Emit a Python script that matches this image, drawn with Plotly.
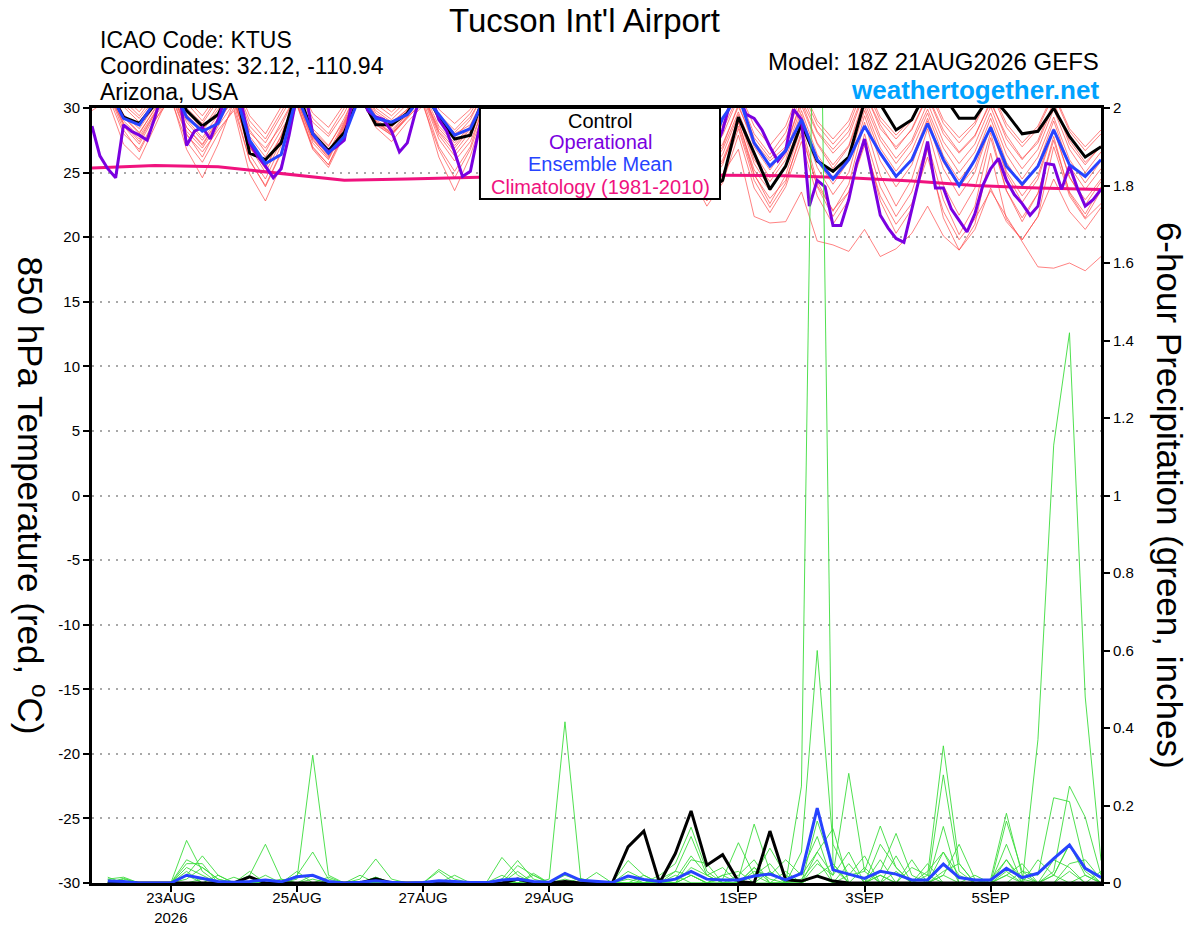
import pandas as pd
import plotly.graph_objects as go

# GEFS run 18Z 21AUG2026, 6-hourly out to 384 h (operational run is 3-hourly)
times6 = pd.date_range("2026-08-21 18:00", periods=65, freq="6h")
times3 = pd.date_range("2026-08-21 18:00", periods=129, freq="3h")
precip_times = times6[1:]          # precip starts at f006
clim_times = times6[::4]           # climatology: one value a day

tick_dates = ["2026-08-23", "2026-08-25", "2026-08-27", "2026-08-29",
              "2026-09-01", "2026-09-03", "2026-09-05"]
tick_text = ["23AUG<br>2026", "25AUG", "27AUG", "29AUG", "1SEP", "3SEP", "5SEP"]

# 850 hPa temperature (C)
t_control = [30.3,
             31.5, 29.3, 28.8, 30.3, 32.0, 29.8, 28.6, 29.5,
             32.0, 26.5, 26.0, 27.3, 31.5, 28.0, 26.7, 28.1,
             31.0, 28.7, 28.7, 29.6, 31.5, 29.3, 27.6, 27.9,
             31.5, 29.5, 28.0, 28.8, 31.5, 29.0, 27.5, 28.5,
             31.0, 28.0, 26.5, 27.0, 30.0, 27.0, 23.6, 24.4,
             29.3, 26.5, 23.7, 25.5, 28.8, 25.9, 25.1, 26.2,
             30.5, 30.3, 28.3, 29.1, 31.5, 31.0, 29.2, 29.2,
             31.0, 29.6, 28.0, 28.2, 30.0, 27.8, 26.2, 27.0]
t_mean = [30.3,
          31.5, 29.2, 28.7, 30.5, 32.0, 29.3, 28.2, 28.8,
          31.5, 27.5, 25.7, 26.4, 31.0, 28.0, 26.5, 27.8,
          31.0, 29.2, 28.9, 29.5, 31.0, 29.5, 27.9, 28.4,
          31.0, 29.0, 27.8, 28.5, 31.0, 29.0, 27.6, 28.3,
          30.5, 28.5, 27.0, 27.8, 30.2, 28.5, 26.2, 29.2,
          31.0, 27.3, 25.5, 26.7, 29.1, 26.0, 24.5, 26.0,
          28.6, 26.5, 24.7, 26.0, 28.8, 26.0, 24.0, 26.0,
          28.5, 25.5, 24.1, 25.5, 28.3, 25.6, 24.7, 26.0]
t_oper = [28.6, 26.3, 25.3, 24.6, 28.7, 28.2, 27.9, 27.5, 29.3, 31.5,
          32.0, 31.5, 27.1, 28.2, 28.5, 27.6, 29.1, 31.0, 32.0, 30.2,
          27.3, 26.3, 25.5, 24.6, 25.3, 27.9, 31.0, 31.5, 28.0, 27.2,
          26.6, 27.0, 27.5, 30.5, 31.5, 29.8, 29.3, 29.1, 28.2, 26.6,
          27.3, 29.6, 31.5, 31.0, 29.1, 28.2, 26.6, 24.7, 25.1, 27.9,
          31.0, 31.5, 30.0, 29.0, 28.0, 27.0, 27.5, 29.0, 31.0, 31.5,
          30.5, 29.0, 27.5, 26.5, 27.0, 28.5, 31.0, 31.5, 30.5, 29.5,
          28.0, 26.8, 27.5, 29.0, 31.0, 31.5, 30.0, 28.5, 27.5, 26.7,
          28.3, 30.5, 31.0, 29.5, 29.2, 28.3, 27.0, 25.9, 26.7, 29.9,
          29.1, 22.4, 24.4, 23.9, 20.9, 20.9, 22.9, 25.7, 27.6, 24.6,
          21.7, 20.7, 19.9, 19.6, 22.1, 24.7, 27.4, 23.8, 23.8, 22.2,
          21.3, 20.4, 21.8, 24.0, 25.3, 26.1, 24.4, 23.3, 22.6, 21.7,
          22.4, 25.7, 25.6, 23.7, 25.5, 23.8, 22.4, 22.9, 23.7]
t_clim = [25.35, 25.55, 25.45, 24.9, 24.4, 24.5, 24.65, 24.75, 24.85,
          24.85, 24.8, 24.75, 24.6, 24.35, 24.0, 23.8, 23.7]

# ensemble members, temperature
t01 = [30.8, 32.0, 30.1, 28.9, 30.6, 32.4, 29.8, 28.3, 30.2, 31.6, 28.1, 26.9, 28.6,
       31.2, 28.4, 27.1, 29.0, 31.9, 29.6, 28.8, 29.9, 31.5, 29.2, 28.0, 28.7,
       31.2, 29.0, 27.6, 29.1, 31.8, 29.7, 28.1, 29.4, 31.4, 28.8, 27.3, 28.6,
       30.9, 27.6, 25.8, 27.2, 30.1, 27.4, 25.9, 27.0, 30.6, 28.1, 26.5, 27.8,
       31.2, 28.7, 26.8, 28.4, 31.0, 28.3, 26.6, 27.9, 30.4, 27.9, 26.1, 27.3,
       30.2, 27.5, 25.8, 27.0]
t02 = [30.2, 31.4, 28.6, 27.2, 29.4, 31.0, 27.9, 26.6, 28.3, 29.8, 24.9, 22.8, 25.6,
       30.6, 27.3, 26.0, 28.4, 31.2, 29.0, 28.1, 29.6, 30.8, 27.6, 25.9, 27.4,
       30.5, 28.0, 26.8, 28.6, 31.0, 28.8, 27.4, 28.9, 30.7, 28.2, 26.9, 28.1,
       29.6, 26.1, 24.2, 26.0, 28.9, 25.2, 23.6, 25.4, 29.5, 25.9, 24.1, 25.9,
       29.8, 26.4, 24.6, 26.1, 29.2, 25.8, 23.9, 25.4, 28.7, 25.1, 23.2, 24.8,
       28.4, 24.6, 22.9, 24.5]
t03 = [30.5, 31.8, 29.4, 28.1, 29.9, 31.7, 28.9, 27.5, 29.2, 31.0, 27.2, 25.4, 27.6,
       30.9, 27.8, 26.4, 28.7, 31.4, 29.1, 28.3, 29.5, 31.0, 28.1, 26.6, 28.2,
       30.9, 28.4, 27.0, 28.8, 31.3, 29.0, 27.6, 29.1, 30.8, 28.0, 26.4, 27.6,
       29.9, 26.2, 24.5, 25.8, 28.6, 24.8, 23.0, 24.4, 27.9, 24.0, 22.1, 23.5,
       27.1, 23.2, 21.0, 22.6, 26.2, 22.0, 19.8, 21.4, 23.6, 21.6, 19.7, 17.7,
       17.6, 18.0, 17.4, 18.5]
t04 = [30.0, 31.2, 28.8, 27.6, 29.6, 31.5, 28.2, 26.9, 28.8, 30.9, 26.4, 24.5, 27.1,
       30.4, 27.0, 25.6, 28.2, 31.0, 28.7, 27.9, 29.2, 30.6, 27.0, 25.1, 27.0,
       30.8, 28.2, 26.9, 28.9, 31.2, 28.6, 27.2, 28.8, 30.4, 27.5, 26.0, 27.4,
       29.2, 25.6, 23.4, 24.9, 26.8, 21.6, 21.1, 21.2, 23.5, 19.7, 19.4, 18.9,
       20.6, 18.5, 19.1, 20.3, 22.4, 20.1, 19.0, 20.6, 23.8, 21.2, 19.8, 21.6,
       24.5, 22.0, 20.6, 22.3]
t05 = [31.0, 32.5, 30.6, 29.4, 31.0, 32.8, 30.4, 29.0, 30.9, 32.0, 29.0, 27.6, 29.7,
       31.8, 29.2, 28.0, 30.0, 32.4, 30.3, 29.4, 30.6, 32.0, 29.5, 28.3, 29.6,
       31.7, 29.6, 28.4, 29.9, 32.2, 30.1, 28.9, 30.2, 31.9, 29.5, 28.1, 29.4,
       31.5, 28.4, 26.9, 28.3, 31.0, 28.0, 26.4, 28.1, 31.4, 28.7, 27.2, 28.6,
       31.8, 29.0, 27.6, 29.0, 31.6, 28.8, 27.3, 28.7, 31.3, 28.5, 27.0, 28.4,
       31.0, 28.2, 26.7, 28.0]
t06 = [30.4, 31.6, 28.8, 27.4, 29.6, 30.9, 26.8, 24.6, 27.2, 30.5, 27.0, 25.3, 27.9,
       31.0, 27.9, 26.6, 28.9, 31.4, 29.0, 28.0, 29.3, 30.4, 26.2, 23.6, 26.3,
       30.1, 27.4, 26.0, 28.1, 30.8, 28.1, 26.8, 28.5, 30.3, 27.3, 25.7, 27.0,
       29.4, 25.0, 22.8, 24.6, 29.0, 24.9, 22.6, 24.8, 28.6, 24.3, 22.0, 24.1,
       28.9, 24.8, 22.4, 24.5, 28.4, 24.0, 21.7, 23.8, 28.1, 23.6, 21.2, 23.4,
       27.8, 23.4, 21.5, 23.6]
t07 = [30.6, 31.9, 29.5, 28.4, 30.2, 32.0, 29.1, 27.7, 29.5, 31.3, 27.8, 26.2, 28.3,
       30.2, 26.8, 25.4, 27.9, 31.5, 29.3, 28.5, 29.7, 31.3, 28.6, 27.3, 28.6,
       31.0, 28.5, 27.2, 28.7, 31.5, 29.2, 27.8, 29.0, 31.1, 28.4, 26.8, 28.0,
       30.5, 27.0, 25.1, 26.8, 29.7, 26.5, 24.6, 26.4, 30.2, 27.2, 25.3, 27.0,
       30.4, 27.5, 25.7, 27.3, 29.9, 26.9, 25.0, 26.6, 29.6, 26.4, 24.5, 26.2,
       29.3, 26.0, 24.2, 25.9]
t08 = [30.9, 32.2, 30.3, 29.2, 30.7, 32.6, 30.0, 28.8, 30.6, 32.0, 28.6, 27.3, 29.4,
       31.5, 28.9, 27.8, 29.6, 32.1, 30.0, 29.1, 30.3, 31.8, 29.0, 27.7, 29.1,
       31.6, 29.3, 28.1, 29.6, 32.0, 29.8, 28.5, 29.8, 31.6, 29.0, 27.6, 28.9,
       31.2, 28.0, 26.3, 27.9, 30.8, 27.7, 26.1, 27.6, 31.1, 28.2, 26.8, 28.2,
       31.3, 28.4, 27.0, 28.3, 30.9, 28.0, 26.5, 27.8, 30.6, 27.6, 26.0, 27.5,
       30.5, 27.2, 25.6, 27.1]
t09 = [30.1, 31.3, 28.3, 26.6, 29.0, 31.2, 28.0, 26.2, 28.6, 30.4, 25.9, 24.0, 26.6,
       30.8, 27.6, 26.1, 28.5, 31.6, 29.4, 28.6, 29.8, 31.1, 28.2, 26.9, 28.4,
       30.7, 28.1, 26.6, 28.5, 31.1, 28.6, 27.0, 28.6, 30.6, 27.8, 26.2, 27.2,
       29.8, 26.4, 24.0, 25.6, 29.3, 25.7, 23.8, 25.4, 28.9, 25.4, 23.3, 25.0,
       29.4, 25.9, 23.9, 25.6, 29.0, 25.3, 23.2, 25.0, 28.6, 24.9, 22.7, 24.5,
       28.3, 24.7, 22.5, 24.3]
t10 = [30.3, 31.5, 29.0, 27.8, 29.7, 31.6, 28.5, 27.1, 29.0, 30.8, 27.0, 25.0, 27.4,
       30.6, 27.5, 26.2, 28.6, 31.2, 28.9, 28.0, 29.4, 30.9, 27.9, 26.3, 27.8,
       30.6, 28.0, 26.5, 28.3, 31.0, 28.4, 26.9, 28.4, 30.5, 27.4, 25.6, 26.9,
       29.5, 25.5, 23.2, 24.8, 28.4, 24.4, 22.3, 24.2, 28.2, 23.9, 21.6, 23.5,
       27.6, 22.8, 20.3, 22.2, 26.8, 21.5, 19.0, 21.0, 26.5, 21.4, 19.8, 21.6,
       27.0, 23.2, 21.4, 22.6]
t11 = [30.7, 31.7, 29.3, 28.0, 30.0, 32.1, 29.5, 28.2, 29.9, 31.4, 28.3, 26.6, 28.9,
       31.1, 28.2, 27.0, 29.2, 31.8, 29.8, 28.9, 29.9, 31.6, 29.3, 28.1, 29.3,
       31.4, 29.1, 27.9, 29.3, 31.6, 29.5, 28.3, 29.5, 31.2, 28.6, 27.0, 28.3,
       30.6, 27.2, 25.4, 27.0, 30.3, 27.0, 25.2, 26.9, 30.5, 27.3, 25.6, 27.1,
       30.8, 27.8, 26.1, 27.5, 30.4, 27.4, 25.7, 27.2, 30.1, 27.0, 25.3, 26.8,
       29.9, 26.8, 25.0, 26.6]
t12 = [29.8, 30.6, 27.2, 26.0, 28.6, 31.3, 28.5, 27.2, 29.1, 30.6, 26.9, 25.8, 27.8,
       30.9, 27.7, 26.3, 28.8, 31.3, 28.8, 27.9, 29.3, 31.0, 28.4, 27.1, 28.5,
       30.8, 28.3, 26.9, 28.6, 31.3, 28.9, 27.5, 28.9, 30.9, 28.1, 26.6, 27.8,
       30.1, 26.6, 24.8, 26.4, 29.5, 26.0, 24.3, 26.0, 29.8, 26.4, 24.6, 26.3,
       30.1, 26.9, 25.1, 26.7, 29.6, 26.3, 24.4, 26.0, 29.2, 25.8, 23.9, 25.6,
       29.0, 25.5, 23.7, 25.3]
t13 = [31.2, 32.9, 30.9, 29.7, 31.3, 33.0, 30.7, 29.4, 31.1, 32.3, 29.4, 28.0, 30.1,
       32.0, 29.6, 28.5, 30.3, 32.6, 30.6, 29.7, 30.8, 32.2, 29.9, 28.8, 29.9,
       32.0, 29.9, 28.8, 30.1, 32.4, 30.3, 29.1, 30.3, 32.1, 29.8, 28.5, 29.7,
       31.8, 28.9, 27.4, 28.7, 31.4, 28.6, 27.1, 28.6, 31.7, 29.0, 27.6, 29.0,
       32.0, 29.3, 27.9, 29.2, 31.8, 29.1, 27.7, 28.9, 31.5, 28.8, 27.3, 28.6,
       31.2, 28.4, 27.0, 28.3]
t14 = [30.0, 31.0, 28.0, 26.8, 29.1, 30.7, 27.4, 25.8, 28.0, 30.0, 26.0, 23.9, 26.5,
       30.3, 26.9, 25.6, 28.0, 30.9, 28.5, 27.4, 28.9, 30.2, 26.8, 24.6, 26.8,
       30.2, 27.5, 26.2, 28.0, 30.7, 28.0, 26.5, 28.2, 30.1, 27.0, 25.2, 26.6,
       28.9, 24.7, 22.4, 24.2, 27.9, 23.8, 21.9, 23.9, 27.4, 23.2, 21.0, 22.9,
       28.0, 23.9, 21.6, 23.5, 27.3, 22.9, 20.2, 22.4, 27.7, 23.6, 21.5, 23.4,
       27.5, 23.5, 21.8, 23.9]

# 6-hour precipitation (inches), f006..f384
p_control = [0, 0, 0, 0, 0, 0, 0, 0,
             0, .016, 0, 0, 0, 0, 0, 0,
             0, .011, 0, 0, 0, 0, 0, 0,
             0, 0, .01, 0, 0, .004, 0, 0,
             0, .093, .134, 0, .076, .186, .046, .073,
             .004, 0, .134, .008, .005, .018, .005, 0,
             0, 0, 0, 0, 0, 0, 0, 0,
             0, 0, 0, 0, 0, 0, 0, 0]
p_mean = [.005, .004, 0, 0, 0, .02, .012, .004,
          .002, .004, .008, .003, .016, .02, .004, 0,
          .002, .006, .002, 0, .001, .006, .004, .001,
          .001, .008, .01, .004, .002, .025, .007, .004,
          .001, .018, .009, .004, .01, .03, .01, .008,
          .008, .018, .023, .008, .025, .193, .034, .023,
          .012, .03, .023, .008, .008, .049, .014, .008,
          .008, .038, .014, .025, .063, .098, .038, .014]

p01 = [0, 0, 0, 0, 0, .11, .03, 0, 0, 0, 0, 0, 0, .02, 0, 0,
       0, 0, 0, 0, 0, 0, 0, 0, 0, .01, .058, .01, 0, 0, 0, 0,
       0, 0, 0, .02, .05, .144, .03, 0, 0, .04, .01, 0, .25, 3.0, .05, 0,
       0, .02, 0, 0, .03, .08, .02, 0, 0, .06, .01, 0, .02, .1, .03, 0]
p02 = [.01, .015, 0, 0, 0, .02, .07, .02, 0, 0, 0, 0, .01, .33, .02, 0,
       0, 0, 0, 0, 0, 0, 0, 0, 0, 0, 0, 0, 0, .02, .005, 0,
       0, .058, .02, 0, 0, .02, 0, .01, .104, .02, 0, 0, .08, .6, .1, .02,
       .03, .147, .04, 0, .02, .354, .05, 0, 0, .03, 0, 0, .06, .04, 0, .03]
p03 = [.01, 0, 0, 0, 0, .06, .04, .01, 0, .02, .1, .01, 0, .01, 0, 0,
       0, 0, 0, 0, 0, .035, .01, 0, 0, 0, 0, 0, .01, .416, .01, 0,
       0, 0, 0, 0, .03, .12, .02, 0, .01, .152, .03, 0, 0, .05, .02, .283,
       .03, 0, 0, 0, 0, .02, 0, 0, .01, .18, .02, 0, .03, .25, .17, .02]
p04 = [0, 0, 0, 0, 0, .05, .05, 0, 0, 0, 0, 0, 0, 0, 0, 0,
       .01, .062, .01, 0, 0, 0, 0, 0, 0, .066, .02, 0, 0, 0, 0, 0,
       0, .01, 0, 0, .01, .07, .02, 0, 0, .02, .09, .02, 0, .16, .04, 0,
       0, .03, .128, .02, 0, .279, .03, 0, 0, .02, 0, .37, 1.13, 1.42, .48, .058]
p05 = [0, .012, 0, 0, 0, .04, .02, 0, 0, .03, 0, 0, .02, .08, .01, 0,
       0, 0, 0, 0, 0, 0, 0, 0, 0, 0, .045, .02, 0, 0, 0, .027,
       0, 0, 0, .01, .03, .02, 0, 0, .02, .06, 0, 0, .03, .12, 0, .02,
       .07, 0, .03, 0, 0, .146, 0, 0, 0, .16, .03, .02, .22, .21, .04, 0]
p06 = [0, 0, 0, 0, 0, .03, 0, .02, 0, 0, 0, 0, .03, 0, 0, 0,
       0, 0, 0, 0, 0, .03, 0, 0, 0, .02, 0, 0, 0, 0, 0, 0,
       0, .03, .01, 0, 0, .04, .02, .04, 0, .03, .02, .06, .02, .08, .14, 0,
       0, .1, .04, 0, 0, .02, .1, .01, 0, .1, 0, 0, 0, .05, .06, .01]
p07 = [0, 0, 0, 0, 0, .01, .04, .01, 0, 0, .02, 0, 0, 0, 0, 0,
       .02, 0, 0, 0, 0, 0, 0, 0, 0, 0, 0, .025, 0, 0, 0, 0,
       0, 0, .02, 0, 0, .06, .05, 0, 0, .02, .05, 0, 0, .08, .02, .08,
       0, .02, 0, .06, 0, .03, .05, 0, 0, .02, .05, 0, .02, .1, .02, 0]
p08 = [.015, 0, 0, 0, 0, 0, .01, 0, .015, 0, 0, 0, 0, 0, 0, 0,
       0, .015, 0, 0, 0, 0, .02, 0, 0, 0, .03, 0, 0, .01, 0, 0,
       0, 0, 0, 0, 0, .02, 0, .02, .03, 0, 0, .03, 0, .02, .05, 0,
       0, .06, 0, 0, .05, 0, 0, .02, 0, 0, 0, .06, .02, 0, 0, 0]
p09 = [0, 0, 0, 0, 0, .02, 0, 0, 0, 0, 0, 0, 0, 0, .015, 0,
       0, 0, 0, 0, 0, 0, 0, 0, 0, .01, 0, .02, 0, 0, 0, 0,
       0, .02, 0, 0, .02, 0, 0, 0, 0, .04, 0, 0, .01, .06, 0, .05,
       0, 0, .07, 0, 0, .08, 0, 0, 0, 0, .03, 0, 0, 0, .02, 0]
p10 = [0, .01, 0, 0, 0, 0, 0, 0, 0, 0, 0, .01, 0, 0, 0, 0,
       0, .015, 0, 0, 0, 0, 0, 0, 0, 0, 0, 0, 0, 0, .012, 0,
       0, 0, 0, .01, 0, 0, 0, .02, 0, 0, .03, 0, 0, .02, 0, 0,
       .04, 0, 0, .04, .02, 0, 0, 0, .01, .06, 0, 0, 0, .03, 0, 0]

temp_members = [t01, t02, t03, t04, t05, t06, t07, t08, t09, t10, t11, t12, t13, t14]
precip_members = [p01, p02, p03, p04, p05, p06, p07, p08, p09, p10]

RED = "rgba(255,70,70,0.85)"
GREEN = "rgb(60,220,60)"
PURPLE = "#7a00e0"
BLUE = "#2743ff"
PINK = "#f0127e"
FONT = "Liberation Sans, Arial, sans-serif"

fig = go.Figure()

for m in temp_members:
    fig.add_trace(go.Scatter(x=times6, y=m, mode="lines",
                             line=dict(color=RED, width=0.8)))
for m in precip_members:
    fig.add_trace(go.Scatter(x=precip_times, y=m, mode="lines", yaxis="y2",
                             line=dict(color=GREEN, width=0.9)))

fig.add_trace(go.Scatter(x=clim_times, y=t_clim, mode="lines",
                         line=dict(color=PINK, width=3)))
fig.add_trace(go.Scatter(x=precip_times, y=p_control, mode="lines", yaxis="y2",
                         line=dict(color="black", width=3)))
fig.add_trace(go.Scatter(x=precip_times, y=p_mean, mode="lines", yaxis="y2",
                         line=dict(color=BLUE, width=3)))
fig.add_trace(go.Scatter(x=times6, y=t_control, mode="lines",
                         line=dict(color="black", width=3)))
fig.add_trace(go.Scatter(x=times3, y=t_oper, mode="lines",
                         line=dict(color=PURPLE, width=3)))
fig.add_trace(go.Scatter(x=times6, y=t_mean, mode="lines",
                         line=dict(color=BLUE, width=3)))

left_ticks = list(range(-30, 31, 5))
right_ticks = [0, 0.2, 0.4, 0.6, 0.8, 1.0, 1.2, 1.4, 1.6, 1.8, 2.0]

fig.update_layout(
    width=1200, height=927,
    margin=dict(l=92, r=99, t=108, b=44),
    paper_bgcolor="white", plot_bgcolor="white",
    showlegend=False,
    font=dict(family=FONT, color="black", size=15),
    xaxis=dict(type="date", range=[times6[0], times6[-1]],
               tickvals=tick_dates, ticktext=tick_text, automargin=False,
               ticks="outside", ticklen=6, tickwidth=1.5, tickcolor="black",
               ticklabelstandoff=-7,
               showline=True, linewidth=3, linecolor="black", mirror=True,
               showgrid=False, zeroline=False, tickfont=dict(size=15)),
    yaxis=dict(range=[-30, 30], tickvals=left_ticks, automargin=False,
               ticktext=[str(v) for v in left_ticks],
               ticks="outside", ticklen=6, tickwidth=1.5, tickcolor="black",
               showline=True, linewidth=3, linecolor="black",
               showgrid=True, gridcolor="#a8a8a8", griddash="2px,6px",
               gridwidth=1.5, zeroline=False, tickfont=dict(size=15)),
    yaxis2=dict(range=[0, 2], overlaying="y", side="right", tickvals=right_ticks,
                ticktext=["0", "0.2", "0.4", "0.6", "0.8", "1", "1.2", "1.4",
                          "1.6", "1.8", "2"], automargin=False,
                ticks="outside", ticklen=6, tickwidth=1.5, tickcolor="black",
                showline=True, linewidth=3, linecolor="black",
                showgrid=False, zeroline=False, tickfont=dict(size=15)),
)

# legend box drawn over the lines
fig.add_shape(type="rect", xref="paper", yref="paper",
              x0=0.3845, x1=0.6224, y0=0.8826, y1=1.0, layer="above",
              fillcolor="white", line=dict(color="black", width=2))

legend_items = [("Control", "black", 0.9832),
                ("Operational", PURPLE, 0.9555),
                ("Ensemble Mean", BLUE, 0.9277),
                ("Climatology (1981-2010)", PINK, 0.8987)]
for txt, col, yy in legend_items:
    fig.add_annotation(text=txt, x=0.5035, y=yy, xref="paper", yref="paper",
                       showarrow=False, xanchor="center", yanchor="middle",
                       font=dict(size=20, color=col, family=FONT))

# header texts
fig.add_annotation(text="Tucson Int'l Airport", x=0.4886, y=1.1135,
                   xref="paper", yref="paper", showarrow=False,
                   xanchor="center", yanchor="middle",
                   font=dict(size=33, family=FONT))
for txt, yy in [("ICAO Code: KTUS", 1.0877),
                ("Coordinates: 32.12, -110.94", 1.0542),
                ("Arizona, USA", 1.0206)]:
    fig.add_annotation(text=txt, x=0.006, y=yy, xref="paper", yref="paper",
                       showarrow=False, xanchor="left", yanchor="middle",
                       font=dict(size=23, family=FONT))
fig.add_annotation(text="Model: 18Z 21AUG2026 GEFS", x=1.0, y=1.0605,
                   xref="paper", yref="paper", showarrow=False,
                   xanchor="right", yanchor="middle",
                   font=dict(size=24, family=FONT))
fig.add_annotation(text="<b>weathertogether.net</b>", x=1.0, y=1.0232,
                   xref="paper", yref="paper", showarrow=False,
                   xanchor="right", yanchor="middle",
                   font=dict(size=26, color="#00a2ff", family=FONT))

# axis titles, reading top to bottom
fig.add_annotation(text="850 hPa Temperature (red, <sup>o</sup>C)",
                   x=-0.0585, y=0.50, xref="paper", yref="paper",
                   showarrow=False, textangle=90,
                   xanchor="center", yanchor="middle",
                   font=dict(size=35, family=FONT))
fig.add_annotation(text="6-hour Precipitation (green, inches)",
                   x=1.068, y=0.50, xref="paper", yref="paper",
                   showarrow=False, textangle=90,
                   xanchor="center", yanchor="middle",
                   font=dict(size=35, family=FONT))

# drop the page's default 8px body margin so the figure fills the window
fig.write_html("out.html", config={"displayModeBar": False},
               post_script="document.body.style.margin = '0';")
